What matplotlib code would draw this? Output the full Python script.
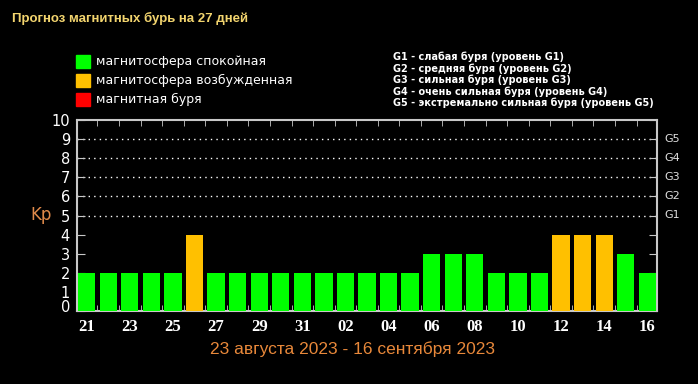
import matplotlib
matplotlib.use("Agg")
import matplotlib.pyplot as plt
import matplotlib.transforms as mtransforms
from matplotlib.patches import Rectangle

W, H = 698, 384

# data
days = ["21", "22", "23", "24", "25", "26", "27", "28", "29", "30", "31",
        "01", "02", "03", "04", "05", "06", "07", "08", "09", "10",
        "11", "12", "13", "14", "15", "16"]
kp = [2, 2, 2, 2, 2, 4, 2, 2, 2, 2, 2, 2, 2, 2, 2, 2, 3, 3, 3, 2, 2, 2, 4, 4, 4, 3, 2]

title = "Прогноз магнитных бурь на 27 дней"
period = "23 августа 2023 - 16 сентября 2023"
legend_labels = ["магнитосфера спокойная", "магнитосфера возбужденная", "магнитная буря"]
g_lines = ["G1 - слабая буря (уровень G1)",
           "G2 - средняя буря (уровень G2)",
           "G3 - сильная буря (уровень G3)",
           "G4 - очень сильная буря (уровень G4)",
           "G5 - экстремально сильная буря (уровень G5)"]
g_levels = [5, 6, 7, 8, 9]
g_names = ["G1", "G2", "G3", "G4", "G5"]

GREEN = "#00ff00"
ORANGE = "#ffc000"
RED = "#ff0000"
legend_colors = [GREEN, ORANGE, RED]
FRAME = "#c8c8c8"


def px(x, y):
    # pixel coords -> figure fraction
    return x / W, 1 - y / H


def bar_color(v):
    if v >= 5:
        return RED
    if v >= 4:
        return ORANGE
    return GREEN


fig = plt.figure(figsize=(W / 100, H / 100), dpi=100, facecolor="black")
ax = fig.add_axes([77 / W, 1 - 311 / H, 580 / W, 191 / H], facecolor="black")

x = list(range(len(days)))
ax.bar(x, kp, width=0.8, color=[bar_color(v) for v in kp], zorder=3)

ax.set_xlim(-0.45, len(days) - 0.55)
ax.set_ylim(0, 10)

for lvl in g_levels:
    ax.axhline(lvl, color="white", lw=1, ls=(0, (1, 3)), zorder=1)

for s in ax.spines.values():
    s.set_color(FRAME)
    s.set_linewidth(1.5)

ax.set_yticks(range(11))
ax.set_yticklabels([str(i) for i in range(11)], color="white", fontsize=10.5)
ax.tick_params(axis="y", direction="in", length=6, color=FRAME, right=True,
               left=True, pad=5)
# "0" sits a little above the baseline in the original
lab0 = ax.get_yticklabels()[0]
lab0.set_transform(lab0.get_transform() +
                   mtransforms.ScaledTranslation(0, 5 / 100, fig.dpi_scale_trans))

ax.set_xticks(x[::2])
ax.set_xticklabels(days[::2], color="white", fontsize=12,
                   family="Liberation Serif", fontweight="bold")
ax.set_xticks([i + 0.5 for i in x[:-1]], minor=True)
ax.tick_params(axis="x", which="major", length=0, pad=6)
ax.tick_params(axis="x", which="minor", direction="in", length=4,
               color=FRAME, top=True, bottom=True)

# right G labels
for lvl, name in zip(g_levels, g_names):
    ax.text(1.012, lvl, name, transform=ax.get_yaxis_transform(),
            color="#e0e0e0", fontsize=8, va="center", ha="left")

fig.text(*px(30, 215), "Kp", color="#e08a4a", fontsize=12, va="center")

fig.text(*px(12, 18), title, color="#f2d46e", fontsize=9.5,
         family="Liberation Sans", fontweight="bold", va="center")

for i, (lab, col) in enumerate(zip(legend_labels, legend_colors)):
    yc = 61 + i * 19
    x0, y0 = px(76, yc + 7)
    fig.patches.append(Rectangle((x0, y0), 14 / W, 13 / H, color=col,
                                 transform=fig.transFigure, figure=fig))
    fig.text(*px(96, yc), lab, color="white", fontsize=9, va="center")

for i, line in enumerate(g_lines):
    fig.text(*px(393, 57 + i * 11.5), line, color="white", fontsize=7,
             fontweight="bold", va="center")

fig.text(*px(352, 349), period, color="#e8883a", fontsize=12.5,
         family="Liberation Sans", ha="center", va="center")

fig.savefig("out.png", dpi=100, facecolor="black")
